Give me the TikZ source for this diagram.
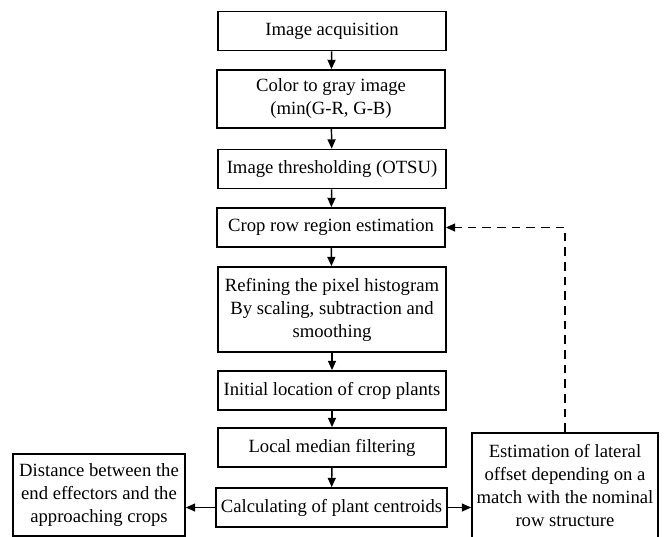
\documentclass[tikz,border=0pt]{standalone}
\usepackage{fontspec}
\setmainfont{Liberation Serif}
\usepackage{tikz}
\usetikzlibrary{arrows.meta,positioning,calc}

\begin{document}
\begin{tikzpicture}[
  x=0.75pt, y=-0.75pt,
  box/.style={draw, line width=1.3pt, align=center, inner sep=2pt, font=\fontsize{14}{17.25}\selectfont},
  stepbox/.style={box, minimum width=171pt, minimum height=29.25pt},
  sidebox/.style={box, minimum width=129pt},
  arr/.style={-{Triangle[length=7pt,width=6pt]}, line width=1.1pt},
  fb/.style={arr, dash pattern=on 6.5pt off 4.5pt}
]
\useasboundingbox (0,0) rectangle (666,536);
\node[stepbox] (acq)  at (332,31)    {Image acquisition};
\node[stepbox, minimum height=43.5pt] (gray) at (331,99) {Color to gray image\\(min(G-R, G-B)};
\node[stepbox] (otsu) at (332,169)   {Image thresholding (OTSU)};
\node[stepbox] (crop) at (331,227.5) {Crop row region estimation};
\node[stepbox, minimum height=63.75pt] (hist) at (332,309.5) {Refining the pixel histogram\\By scaling, subtraction and\\smoothing};
\node[stepbox] (init) at (332,390.5) {Initial location of crop plants};
\node[stepbox] (med)  at (332,447.5) {Local median filtering};
\node[stepbox, minimum width=173pt] (cent) at (331.5,507.5) {Calculating of plant centroids};
\node[sidebox, minimum height=61.5pt] (dist) at (99,495) {Distance between the\\end effectors and the\\approaching crops};
\node[box, minimum width=139.5pt, minimum height=79.5pt] (lat) at (565,486) {Estimation of lateral\\offset depending on a\\match with the nominal\\row structure};
\foreach \a/\b in {acq/gray,gray/otsu,otsu/crop,crop/hist,hist/init,init/med,med/cent}{\draw[arr] (\a) -- (\b);}
\draw[arr] (cent.west) -- (cent.west -| dist.east);
\draw[arr] (cent.east) -- (cent.east -| lat.west);
\draw[fb] (lat.north) |- (crop.east);
\end{tikzpicture}
\end{document}
